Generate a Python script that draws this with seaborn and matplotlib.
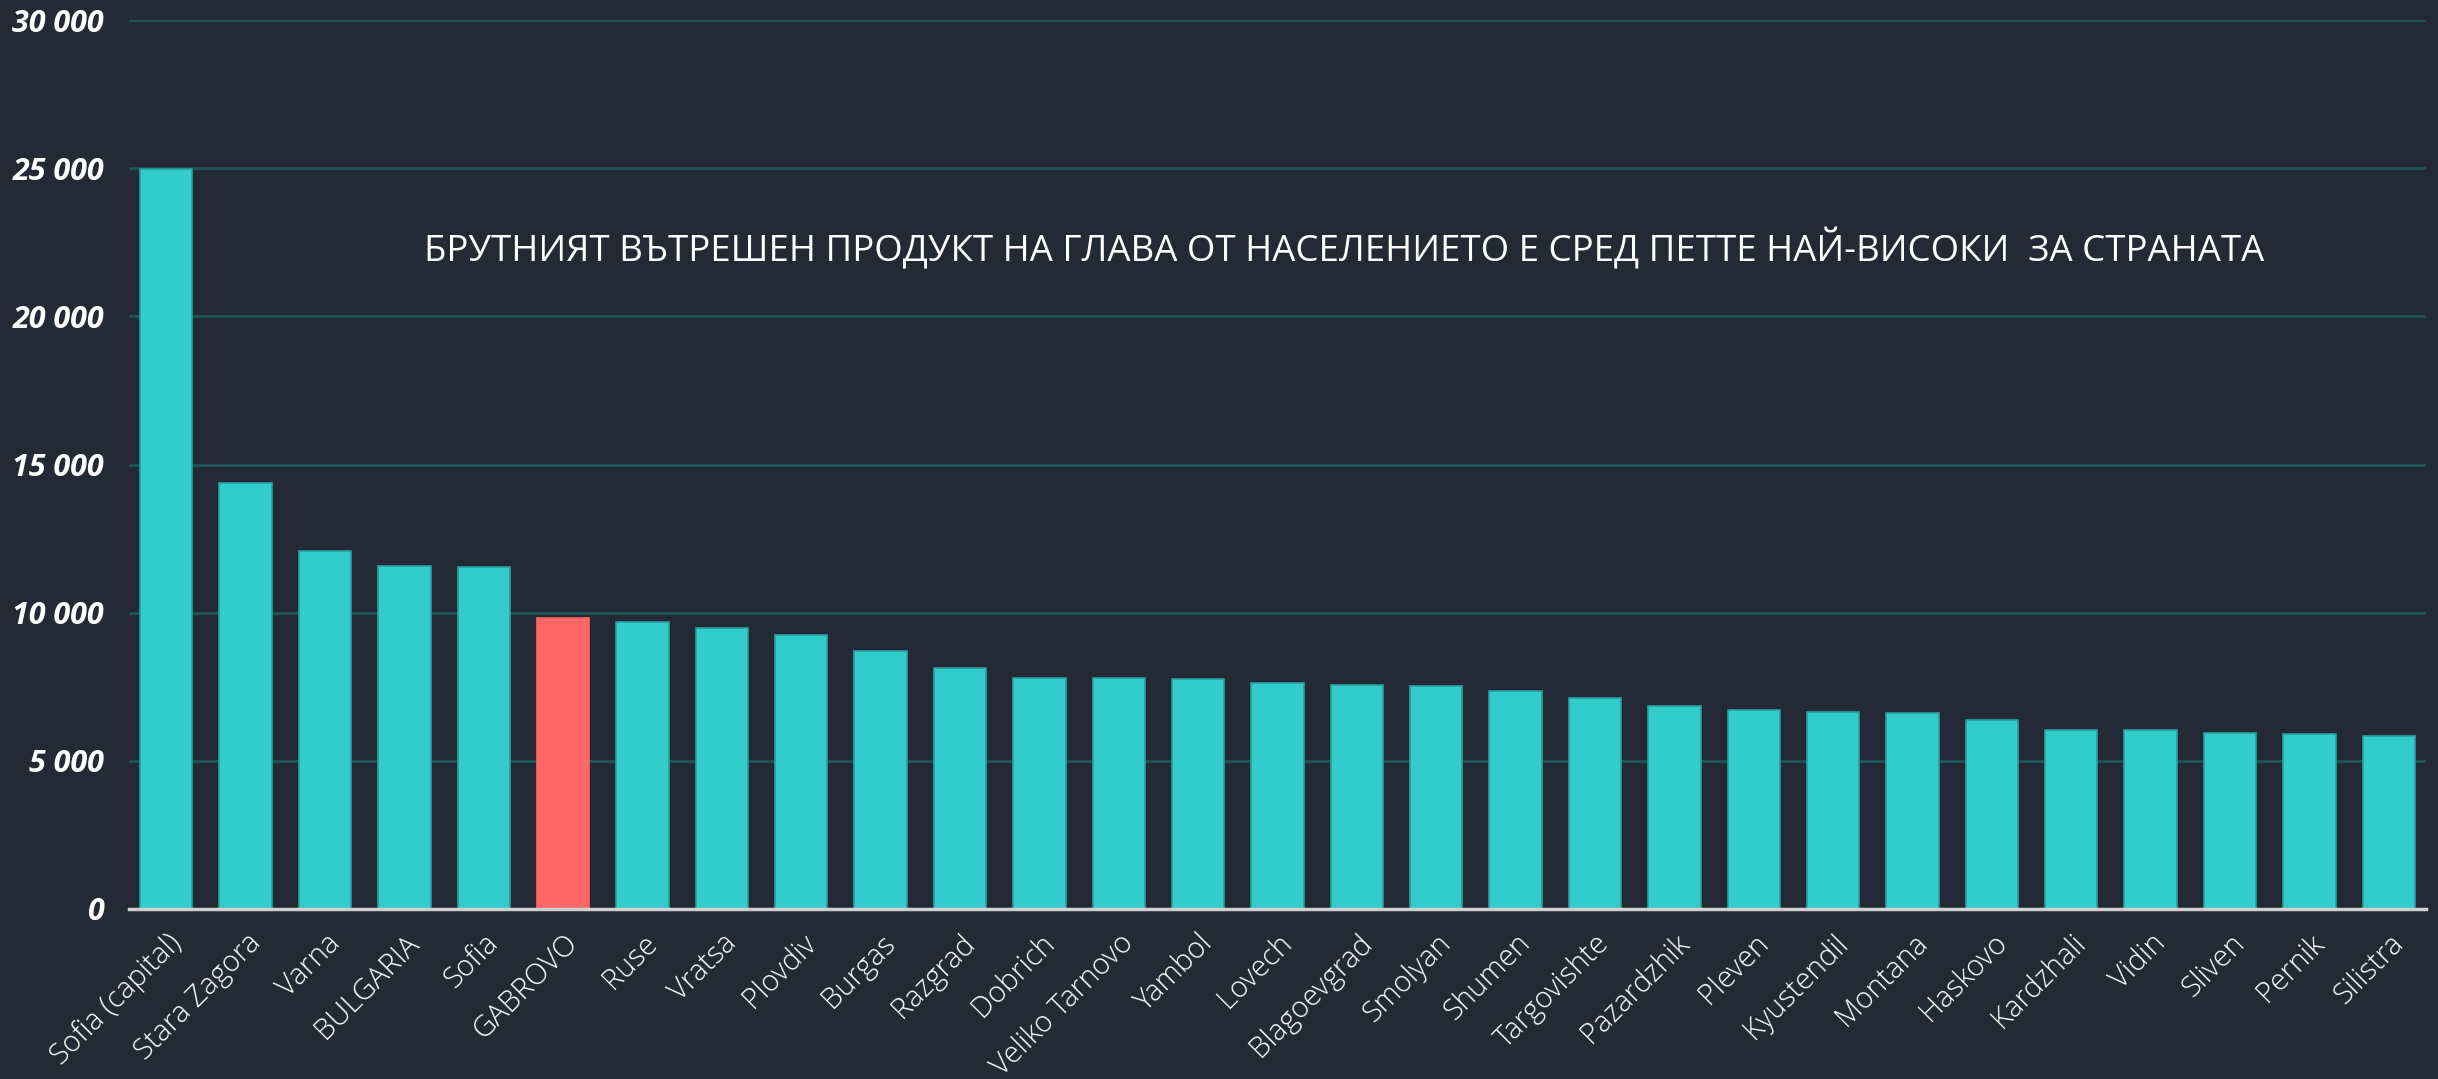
import numpy as np
import pandas as pd
import seaborn as sns
import matplotlib.pyplot as plt
from matplotlib.ticker import FuncFormatter

# GDP per capita by district
regions = ['Sofia (capital)', 'Stara Zagora', 'Varna', 'BULGARIA', 'Sofia', 'GABROVO',
           'Ruse', 'Vratsa', 'Plovdiv', 'Burgas', 'Razgrad', 'Dobrich', 'Veliko Tarnovo',
           'Yambol', 'Lovech', 'Blagoevgrad', 'Smolyan', 'Shumen', 'Targovishte',
           'Pazardzhik', 'Pleven', 'Kyustendil', 'Montana', 'Haskovo', 'Kardzhali',
           'Vidin', 'Sliven', 'Pernik', 'Silistra']
gdp = [24980, 14370, 12080, 11570, 11540, 9830, 9670, 9490, 9260, 8690, 8140, 7800,
       7800, 7750, 7620, 7560, 7540, 7360, 7110, 6840, 6710, 6650, 6600, 6380, 6040,
       6030, 5940, 5920, 5830]
highlight = 'GABROVO'
title_text = 'БРУТНИЯТ ВЪТРЕШЕН ПРОДУКТ НА ГЛАВА ОТ НАСЕЛЕНИЕТО Е СРЕД ПЕТТЕ НАЙ-ВИСОКИ  ЗА СТРАНАТА'
yticks = [0, 5000, 10000, 15000, 20000, 25000, 30000]

bg = '#232a35'
teal = '#33cccc'
red = '#ff6666'

df = pd.DataFrame({'region': regions, 'gdp': gdp})
palette = {r: (red if r == highlight else teal) for r in regions}

sns.set_style('dark')
plt.rcParams['font.family'] = ['Open Sans', 'DejaVu Sans']

fig = plt.figure(figsize=(24.38, 10.79), dpi=100, facecolor=bg)
ax = fig.add_axes([129 / 2438, 1 - 909 / 1079, (2426 - 129) / 2438, (909 - 20) / 1079])
ax.set_facecolor(bg)

sns.barplot(data=df, x='region', y='gdp', hue='region', palette=palette, legend=False,
            width=0.66, edgecolor='#2a9f9f', linewidth=1.2, saturation=1, ax=ax, zorder=3)

# highlighted bar without the darker outline
for patch, r in zip(ax.patches, regions):
    if r == highlight:
        patch.set_edgecolor(red)

ax.set_ylim(0, 30000)
ax.set_xlim(-0.47, len(regions) - 0.53)
ax.set_yticks(yticks)
ax.yaxis.set_major_formatter(FuncFormatter(lambda v, p: f'{int(v):,}'.replace(',', ' ')))
ax.grid(axis='y', color='#1f5558', linewidth=2, zorder=0)
ax.grid(axis='x', visible=False)

for s in ['top', 'right', 'left']:
    ax.spines[s].set_visible(False)
ax.spines['bottom'].set_color('#d0d0d0')
ax.spines['bottom'].set_linewidth(2.5)
ax.spines['bottom'].set_zorder(4)

ax.tick_params(axis='y', length=0, pad=18, labelcolor='white')
ax.tick_params(axis='x', length=0, pad=14, labelcolor='white')
for lab in ax.get_yticklabels():
    lab.set_fontsize(22)
    lab.set_fontweight('bold')
    lab.set_fontstyle('italic')
ax.set_xticks(range(len(regions)))
ax.set_xticklabels(regions, rotation=45, ha='right', rotation_mode='anchor', fontsize=21,
                   fontweight='light')
ax.set_xlabel('')
ax.set_ylabel('')

ax.text(0.529, 0.742, title_text, transform=ax.transAxes, color='white', fontsize=26.4,
        ha='center', va='center')

fig.savefig('out.png', dpi=100, facecolor=bg)
